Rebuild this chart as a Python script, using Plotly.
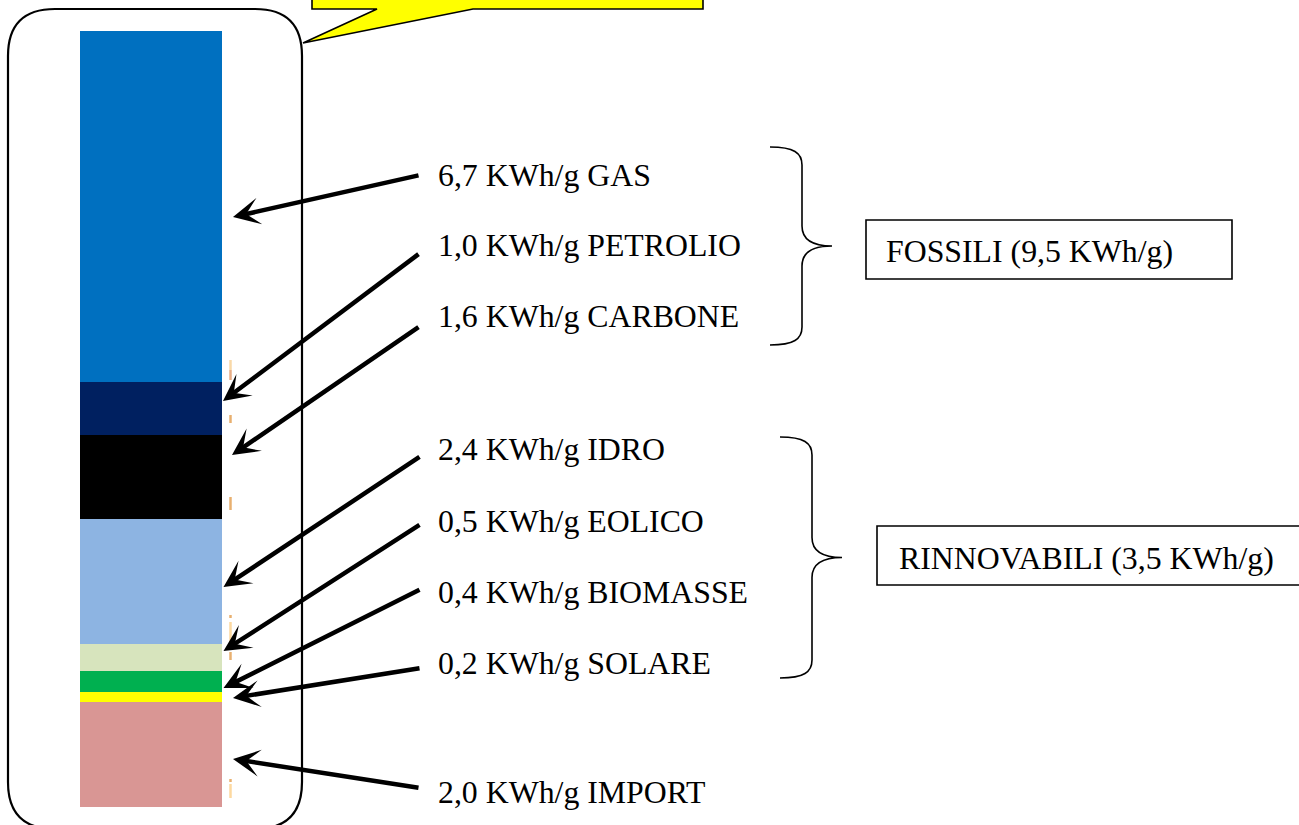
import plotly.graph_objects as go

# ---- data (bottom to top of the stacked column) ----
sources = ["IMPORT", "SOLARE", "BIOMASSE", "EOLICO", "IDRO", "CARBONE", "PETROLIO", "GAS"]
values = [2.0, 0.2, 0.4, 0.5, 2.4, 1.6, 1.0, 6.7]
colors = ["#D99694", "#FFFF00", "#00B050", "#D7E4BD", "#8DB4E2", "#000000", "#002060", "#0070C0"]
unit = "KWh/g"
group_labels = ["FOSSILI (9,5 KWh/g)", "RINNOVABILI (3,5 KWh/g)"]

W, H = 1299, 825
FONT = "Liberation Serif, Times New Roman, serif"
total = sum(values)

fig = go.Figure()

# stacked column drawn through its own axes
for name, v, c in zip(sources, values, colors):
    fig.add_trace(go.Bar(
        x=["mix"], y=[v], name=name, marker=dict(color=c, line=dict(width=0)),
        xaxis="x2", yaxis="y2", showlegend=False, hoverinfo="name+y"))

# invisible helper trace so the overlay (pixel) axes exist
fig.add_trace(go.Scatter(x=[0, W], y=[0, H], mode="markers",
                         marker=dict(opacity=0), showlegend=False, hoverinfo="skip"))

bar_left, bar_right, bar_top, bar_bottom = 80, 222, 31, 807

fig.update_layout(
    width=W, height=H, margin=dict(l=0, r=0, t=0, b=0),
    paper_bgcolor="white", plot_bgcolor="rgba(0,0,0,0)",
    barmode="stack", bargap=0,
    xaxis=dict(range=[0, W], domain=[0, 1], visible=False, fixedrange=True),
    yaxis=dict(range=[H, 0], domain=[0, 1], visible=False, fixedrange=True),
    xaxis2=dict(domain=[bar_left / W, bar_right / W], range=[-0.5, 0.5],
                visible=False, anchor="y2", fixedrange=True),
    yaxis2=dict(domain=[(H - bar_bottom) / H, (H - bar_top) / H],
                range=[0, total], visible=False, anchor="x2", fixedrange=True),
)

shapes = []
# rounded frame around the column
x0, x1, y0, y1, r = 8, 302, 9, 829, 47
shapes.append(dict(
    type="path", xref="x", yref="y", layer="above",
    path=(f"M {x0+r},{y0} L {x1-r},{y0} Q {x1},{y0} {x1},{y0+r} "
          f"L {x1},{y1-r} Q {x1},{y1} {x1-r},{y1} L {x0+r},{y1} "
          f"Q {x0},{y1} {x0},{y1-r} L {x0},{y0+r} Q {x0},{y0} {x0+r},{y0} Z"),
    line=dict(color="black", width=2.2), fillcolor="rgba(0,0,0,0)"))

# yellow callout at the top (partly off-page)
shapes.append(dict(
    type="path", xref="x", yref="y", layer="above",
    path="M 312,-30 L 312,9 L 377,9 L 303,43 L 473,9 L 703,9 L 703,-30 Z",
    line=dict(color="black", width=1.6), fillcolor="#FFFF00"))

# curly braces
def brace(xe, xv, xp, ytop, ybot):
    ym = (ytop + ybot) / 2
    return (f"M {xe},{ytop} C {xv-8},{ytop} {xv},{ytop+6} {xv},{ytop+18} "
            f"L {xv},{ym-20} C {xv},{ym-8} {xv+8},{ym} {xp},{ym} "
            f"C {xv+8},{ym} {xv},{ym+8} {xv},{ym+20} "
            f"L {xv},{ybot-18} C {xv},{ybot-6} {xv-8},{ybot} {xe},{ybot}")

shapes.append(dict(type="path", xref="x", yref="y", path=brace(770, 802, 832, 147, 345),
                   line=dict(color="black", width=1.6)))
shapes.append(dict(type="path", xref="x", yref="y", path=brace(780, 812, 842, 437, 678),
                   line=dict(color="black", width=1.6)))

# group boxes
shapes.append(dict(type="rect", xref="x", yref="y", x0=866, x1=1232, y0=220, y1=279,
                   line=dict(color="black", width=1.6)))
shapes.append(dict(type="rect", xref="x", yref="y", x0=877, x1=1320, y0=526, y1=585,
                   line=dict(color="black", width=1.6)))

# faint orange glyph fragments next to the column
decor = [(360, 370, "#F9D9A8"), (370, 380, "#E9AE86"), (415, 423, "#E8B070"),
         (497, 510, "#E8B070"), (615, 618, "#E8B070"), (622, 642, "#FDD9A0"),
         (652, 660, "#E8B070"), (779, 782, "#E8B070"), (784, 798, "#FDD9A0")]
for ya, yb, c in decor:
    shapes.append(dict(type="line", xref="x", yref="y", x0=230.5, x1=230.5, y0=ya, y1=yb,
                       line=dict(color=c, width=2.5)))

fig.update_layout(shapes=shapes)

annotations = []
# label positions (cap-centre y) and arrows: tail -> head
label_y = {"GAS": 175, "PETROLIO": 245, "CARBONE": 316, "IDRO": 449.5,
           "EOLICO": 521, "BIOMASSE": 592.5, "SOLARE": 663.5, "IMPORT": 792.5}
arrows = {"GAS": (420, 175, 233, 217), "PETROLIO": (420, 253, 223, 401),
          "CARBONE": (420, 326, 232, 455), "IDRO": (421, 456, 223.5, 587),
          "EOLICO": (421, 524, 223.5, 651), "BIOMASSE": (421, 589, 223.5, 688),
          "SOLARE": (421, 668, 233, 698), "IMPORT": (420, 788, 233, 759)}

for name, v in zip(sources, values):
    txt = f"{v:.1f}".replace(".", ",") + f" {unit} {name}"
    annotations.append(dict(
        x=436, y=label_y[name], xref="x", yref="y", text=txt, showarrow=False,
        xanchor="left", yanchor="middle", font=dict(family=FONT, size=31.8, color="black")))
    tx, ty, hx, hy = arrows[name]
    annotations.append(dict(
        x=hx, y=hy, xref="x", yref="y", ax=tx, ay=ty, axref="x", ayref="y",
        text="", showarrow=True, arrowhead=3, arrowsize=1.0, arrowwidth=4.5,
        arrowcolor="black", standoff=0, startstandoff=0))

annotations.append(dict(x=884, y=251.5, xref="x", yref="y", text=group_labels[0],
                        showarrow=False, xanchor="left", yanchor="middle",
                        font=dict(family=FONT, size=31.8, color="black")))
annotations.append(dict(x=897, y=558, xref="x", yref="y", text=group_labels[1],
                        showarrow=False, xanchor="left", yanchor="middle",
                        font=dict(family=FONT, size=31.8, color="black")))

fig.update_layout(annotations=annotations)

# remove the browser's default body margin so the figure sits at the page origin
fig.write_html("out.html", config={"displayModeBar": False},
               post_script="document.body.style.margin='0';document.body.style.overflow='hidden';")
